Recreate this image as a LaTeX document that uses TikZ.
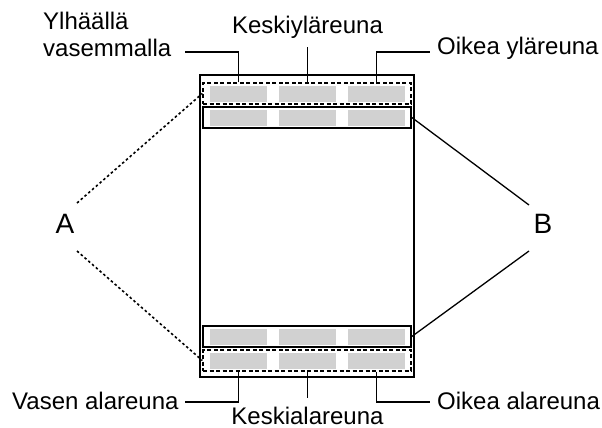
\documentclass[tikz,border=0pt]{standalone}
\usepackage{fontspec}
\setmainfont{Liberation Sans}
\definecolor{cellgrey}{HTML}{D1D1D1}
\begin{document}
\begin{tikzpicture}[x=1pt,y=-1pt,
 lbl/.style={inner sep=0pt,font=\fontsize{24}{27}\selectfont},
 biglbl/.style={inner sep=0pt,font=\fontsize{28}{30}\selectfont},
 pageframe/.style={draw=black,line width=1.8pt,inner sep=0pt,minimum width=214pt,minimum height=302pt},
 cell/.style={fill=cellgrey,draw=none,inner sep=0pt,minimum width=57pt,minimum height=16pt},
 dbox/.style={draw=black,line width=1.3pt,dash pattern=on 4pt off 2.5pt,inner sep=0pt,minimum width=208pt,minimum height=21pt},
 sbox/.style={draw=black,line width=1.6pt,inner sep=0pt,minimum width=208pt,minimum height=21pt},
 lead/.style={draw=black,line width=1.3pt},
 dlead/.style={draw=black,line width=1.6pt,dash pattern=on 2.5pt off 2.5pt}]
\useasboundingbox (0,0) rectangle (602,428);
% page
\node[pageframe] (page) at (307,226) {};
% boxes
\node[dbox] (topd) at (307,93.5) {};
\node[sbox] (tops) at (307,117.5) {};
\node[sbox] (bots) at (307,336.5) {};
\node[dbox] (botd) at (307,360.5) {};
% cells
\foreach \r/\y in {1/93.5,2/117.5,3/336.5,4/360.5}{
  \node[cell] (c\r1) at (238.5,\y) {};
  \node[cell] (c\r2) at (307.5,\y) {};
  \node[cell] (c\r3) at (376.5,\y) {};
}
% labels
\node[lbl,anchor=south west,align=left] (ylv) at (43,57) {Ylhäällä\\vasemmalla};
\node[lbl,anchor=base] (kyl) at (307.5,34) {Keskiyläreuna};
\node[lbl,anchor=base west] (oyl) at (437,55) {Oikea yläreuna};
\node[lbl,anchor=base west] (val) at (12,409) {Vasen alareuna};
\node[lbl,anchor=base] (kal) at (307.5,424) {Keskialareuna};
\node[lbl,anchor=base west] (oal) at (437,409) {Oikea alareuna};
\node[biglbl] (A) at (65,224) {A};
\node[biglbl] (B) at (543,224) {B};
% leader ends
\coordinate (ylvend) at (185,52);
\coordinate (kylend) at (307.5,47);
\coordinate (oylend) at (430,52);
\coordinate (valend) at (185,402);
\coordinate (kalend) at (307.5,398);
\coordinate (oalend) at (430,402);
% leaders
\draw[lead] (topd.north -| c11) |- (ylvend);
\draw[lead] (topd.north -| c12) -- (kylend);
\draw[lead] (topd.north -| c13) |- (oylend);
\draw[lead] (botd.south -| c41) |- (valend);
\draw[lead] (botd.south -| c42) -- (kalend);
\draw[lead] (botd.south -| c43) |- (oalend);
% A and B
\draw[dlead] ([shift={(12,-21)}]A.center) -- (topd.west);
\draw[dlead] ([shift={(12,27)}]A.center) -- (botd.west);
\draw[lead] ([shift={(-14,-19)}]B.center) -- (tops.east);
\draw[lead] ([shift={(-14,27)}]B.center) -- (bots.east);
\end{tikzpicture}
\end{document}
